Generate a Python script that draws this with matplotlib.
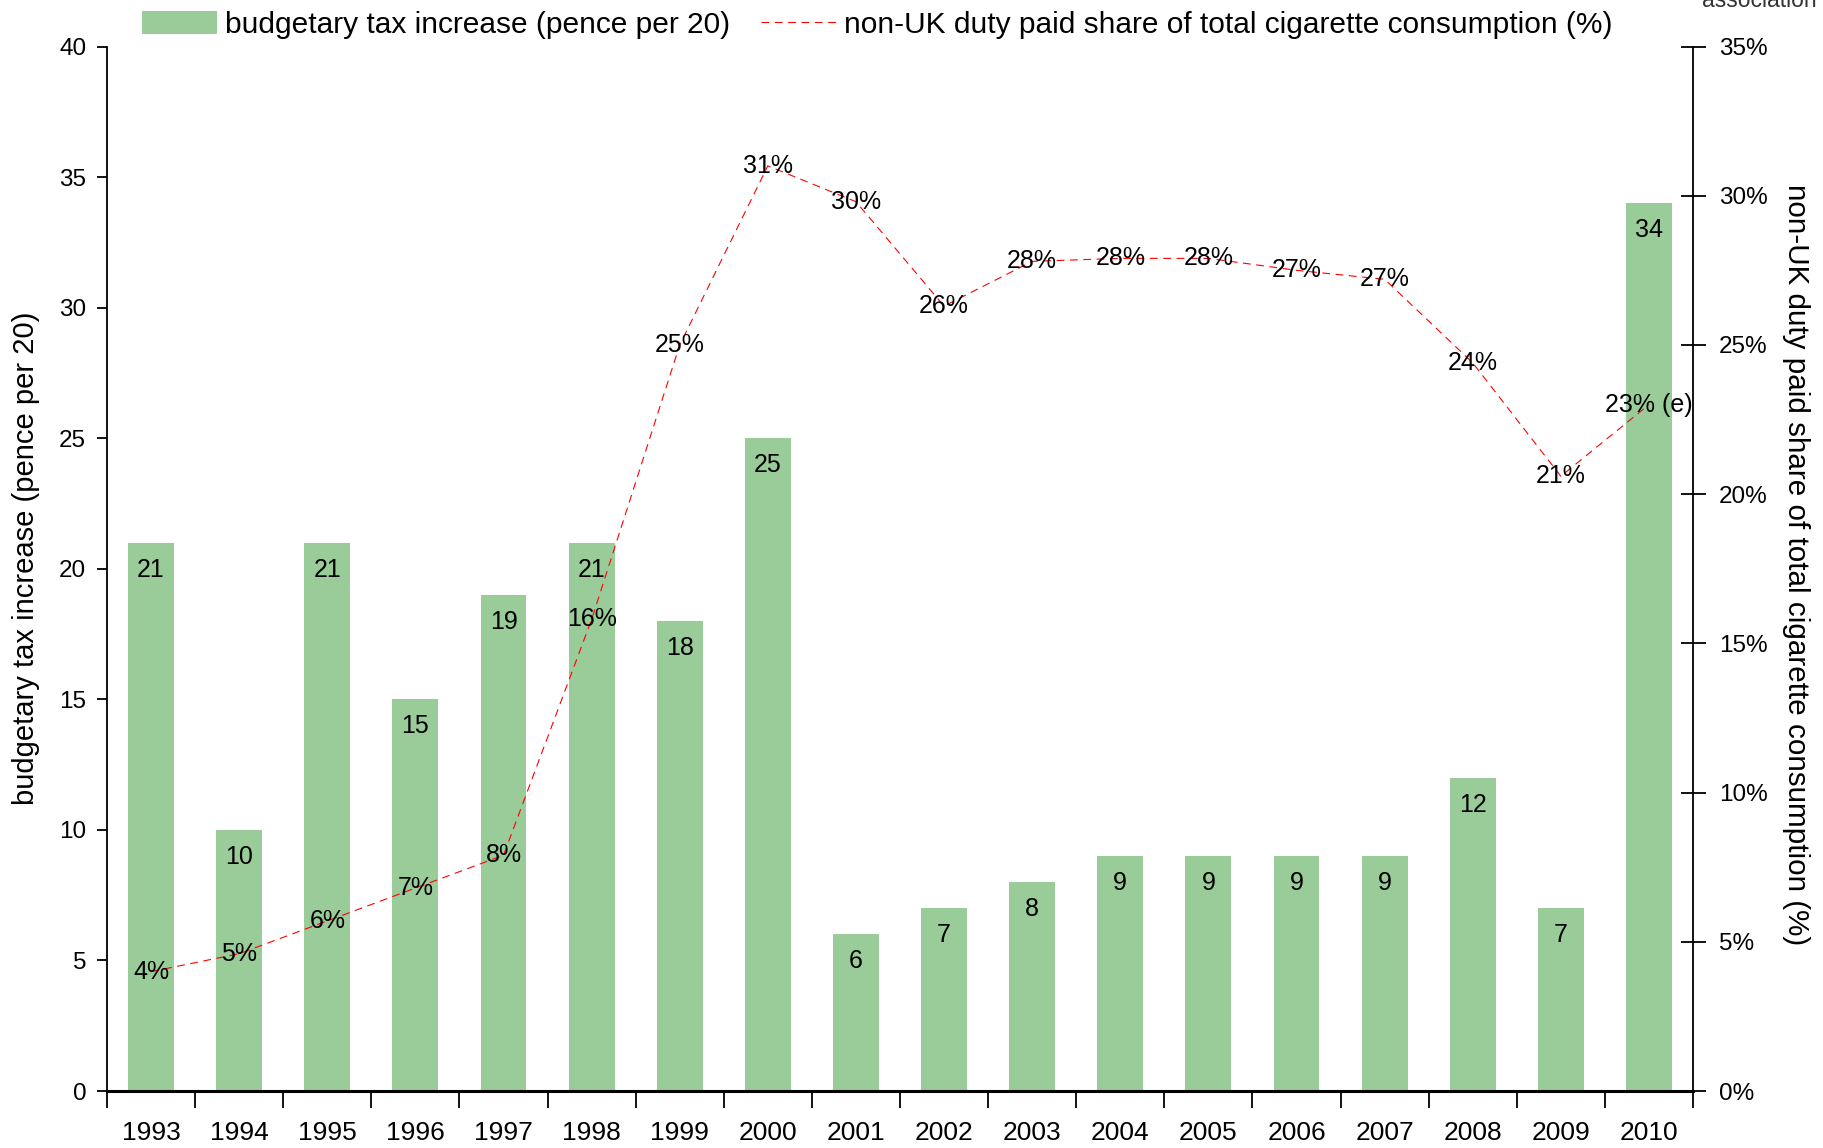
import numpy as np
import matplotlib
matplotlib.use("Agg")
import matplotlib.pyplot as plt
from matplotlib import font_manager
from matplotlib.patches import Patch
from matplotlib.lines import Line2D

years = ["1993", "1994", "1995", "1996", "1997", "1998", "1999", "2000", "2001",
         "2002", "2003", "2004", "2005", "2006", "2007", "2008", "2009", "2010"]
tax_increase = [21, 10, 21, 15, 19, 21, 18, 25, 6, 7, 8, 9, 9, 9, 9, 12, 7, 34]
non_uk_share = [4.0, 4.6, 5.7, 6.8, 7.9, 15.8, 25.0, 31.0, 29.8, 26.3, 27.8, 27.9,
                27.9, 27.5, 27.2, 24.4, 20.6, 23.0]
share_labels = ["4%", "5%", "6%", "7%", "8%", "16%", "25%", "31%", "30%", "26%",
                "28%", "28%", "28%", "27%", "27%", "24%", "21%", "23% (e)"]
left_ticks = [0, 5, 10, 15, 20, 25, 30, 35, 40]
right_ticks = [0, 5, 10, 15, 20, 25, 30, 35]

names = {f.name for f in font_manager.fontManager.ttflist}
NORMAL = "Liberation Sans" if "Liberation Sans" in names else "DejaVu Sans"
NARROW = "Liberation Sans Narrow" if "Liberation Sans Narrow" in names else NORMAL
plt.rcParams["font.family"] = [NORMAL, "DejaVu Sans"]

W, H = 1823, 1148
fig = plt.figure(figsize=(W / 100, H / 100), dpi=100)
L, R, B, T = 107, 1693, 1091, 46.5
ax = fig.add_axes([L / W, 1 - B / H, (R - L) / W, (B - T) / H])
ax2 = ax.twinx()

x = np.arange(len(years))
bars = ax.bar(x, tax_increase, width=0.52, color="#99CC99", zorder=2)
ax.set_xlim(-0.5, len(years) - 0.5)
ax.set_ylim(0, 40)
ax.set_yticks(left_ticks)
ax.set_yticklabels([str(t) for t in left_ticks])

ax.set_xticks(np.arange(-0.5, len(years), 1.0))
ax.set_xticklabels([])
ax.set_xticks(x, minor=True)
ax.set_xticklabels(years, minor=True, fontfamily=NARROW, fontsize=19)
ax.tick_params(axis="x", which="major", direction="out", length=12, width=1.3)
ax.tick_params(axis="x", which="minor", length=0, pad=21.5)
ax.tick_params(axis="y", direction="out", length=7, width=1.3, labelsize=17.5, pad=8)

for sp in ["top"]:
    ax.spines[sp].set_visible(False)
    ax2.spines[sp].set_visible(False)
ax.spines["left"].set_linewidth(1.3)
ax.spines["bottom"].set_linewidth(2.2)
ax.spines["right"].set_visible(False)
ax2.spines["left"].set_visible(False)
ax2.spines["bottom"].set_visible(False)
ax2.spines["right"].set_linewidth(1.3)

ax2.set_ylim(0, 35)
ax2.set_yticks(right_ticks)
ax2.set_yticklabels([f"{t}%" for t in right_ticks])
ax2.tick_params(axis="y", direction="inout", length=18, width=1.3, labelsize=17.5, pad=9.5)

for xi, v in zip(x, tax_increase):
    ax.annotate(str(v), (xi, v), xytext=(0, -27), textcoords="offset pixels",
                ha="center", va="center", fontsize=18, zorder=3)

ax2.plot(x, non_uk_share, color="#FF0000", lw=0.8, linestyle=(0, (7, 5)), zorder=3)
for xi, v, lab in zip(x, non_uk_share, share_labels):
    ax2.text(xi, v, lab, ha="center", va="center", fontsize=18, zorder=4)

fig.text(26 / W, 1 - 558 / H, "budgetary tax increase (pence per 20)", rotation=90,
         ha="center", va="center", fontsize=21)
fig.text(1796 / W, 1 - 565 / H, "non-UK duty paid share of total cigarette consumption (%)",
         rotation=-90, ha="center", va="center", fontsize=21.3)

fig.text(1702 / W, 1 - 7 / H, "association", ha="left", va="baseline", fontsize=16.5,
         color="#333333")

handles = [Patch(facecolor="#99CC99", edgecolor="none"),
           Line2D([0], [0], color="#FF0000", lw=0.8, linestyle=(0, (7, 5)))]
labels = ["budgetary tax increase (pence per 20)",
          "non-UK duty paid share of total cigarette consumption (%)"]
fig.legend(handles, labels, ncol=2, loc="upper left", bbox_to_anchor=(142 / W, 1 - 11 / H),
           frameon=False, prop={"family": NARROW, "size": 21.5}, handlelength=2.5,
           handleheight=0.8, handletextpad=0.28, columnspacing=1.03, borderpad=0,
           borderaxespad=0)

fig.savefig("out.png", dpi=100)
